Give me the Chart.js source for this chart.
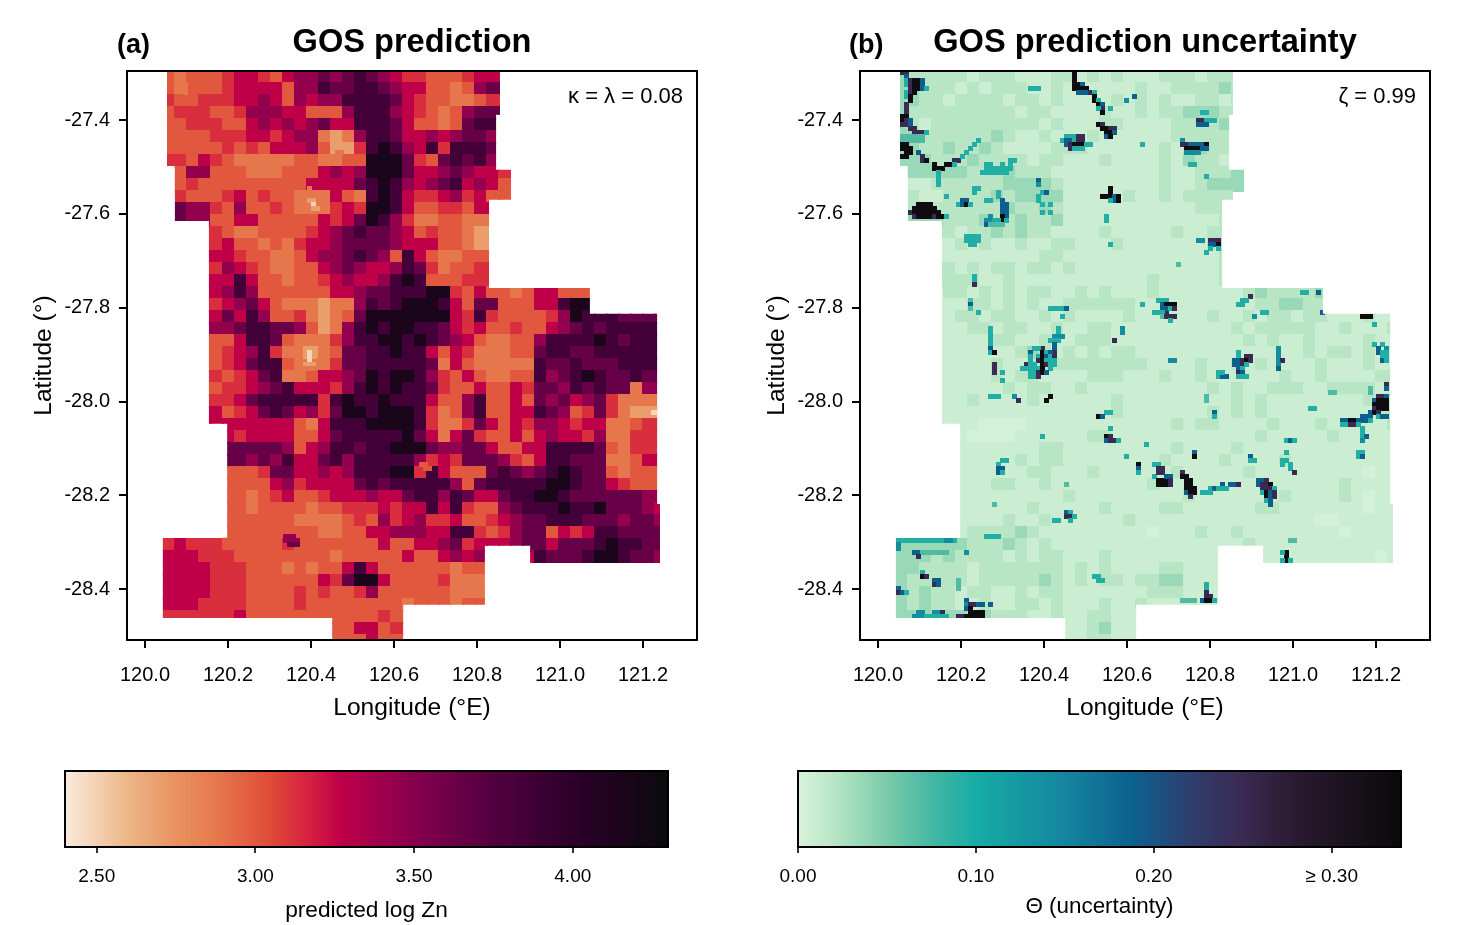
<!DOCTYPE html>
<html><head><meta charset="utf-8">
<style>
html,body{margin:0;padding:0;background:#fff;width:1466px;height:925px;overflow:hidden}
canvas{position:absolute}
</style>
<script src="https://cdn.jsdelivr.net/npm/chart.js@4"></script>
</head><body>
<canvas id="mapA" style="left:0;top:0" width="733" height="730"></canvas>
<canvas id="mapB" style="left:733px;top:0" width="733" height="730"></canvas>
<canvas id="barA" style="left:0;top:740px" width="733" height="185"></canvas>
<canvas id="barB" style="left:733px;top:740px" width="733" height="185"></canvas>
<script>
const lonTicks=[120.0,120.2,120.4,120.6,120.8,121.0,121.2];
const latTicks=[-27.4,-27.6,-27.8,-28.0,-28.2,-28.4];
const lonRange=[119.9566,121.3301];
const latRange=[-28.508,-27.2956];
// survey outline [lon,lat]
const outline=[[120.053,-27.2956],[120.855,-27.2956],[120.855,-27.389],[120.846,-27.389],[120.846,-27.506],[120.882,-27.506],[120.882,-27.570],[120.829,-27.570],[120.829,-27.758],[121.072,-27.758],[121.072,-27.813],[121.234,-27.813],[121.234,-28.218],[121.241,-28.218],[121.241,-28.344],[120.928,-28.344],[120.928,-28.307],[120.819,-28.307],[120.819,-28.433],[120.622,-28.433],[120.622,-28.508],[120.451,-28.508],[120.451,-28.461],[120.043,-28.461],[120.043,-28.290],[120.198,-28.290],[120.198,-28.047],[120.154,-28.047],[120.154,-27.615],[120.072,-27.615],[120.072,-27.498],[120.053,-27.498]];
const gridOrigin=[120.0434,-27.2956];
const coarseStep=[0.028916,0.025559];
const fineStep=[0.009639,0.00852];
// level code -> value
const zincLevels=[2.48,2.7,2.88,3.0,3.13,3.27,3.45,3.65,3.85,4.15];
const thetaLevels=[0.003,0.008,0.02,0.035,0.07,0.095,0.14,0.19,0.25,0.33];
const zincStops=[[2.40,'#faebdd'],[2.6,'#edb587'],[2.75,'#e8925f'],[2.9,'#e6734a'],[3.05,'#df4a38'],[3.18,'#d51c42'],[3.27,'#bf0049'],[3.5,'#87004f'],[3.75,'#520040'],[4.0,'#2d002b'],[4.3,'#0a0a0c']];
const thetaStops=[[0,'#d8f3db'],[0.02,'#b8e6c5'],[0.05,'#7acbaa'],[0.075,'#45b7a4'],[0.1,'#17aca5'],[0.15,'#14859f'],[0.19,'#0d5f8d'],[0.22,'#2e3f6e'],[0.25,'#3a2a52'],[0.28,'#2a1a30'],[0.339,'#0a0a0a']];
// predicted log Zn, coarse rows
const zincRows=[
"32333455435667678765443334555",
"32333455553668778876553323677",
"43344455653656688887543322344",
"34443346665533368886543236777",
"3344433565656755888753323788",
"3333444554566212688755656776",
"3333343435556311489865848887",
"4435432222233223399974378786",
"33663332223335656999755676554",
"33433333333355557898656785653",
".4333453433222532898544564533",
".766436334322245499853344355",
".766335533333545798642233222",
"...4 432233334567877653433211",
"...4 453323245567777655533211",
"...5 554332235667876385322333",
"...4 465432233567655687423344",
"...5 558533233456556898333444",
"...5 56863333335567788899435332355333",
"...4 45675322212268789998537733355899",
"...5 5758633421 2379999999 5484333346 98887777",
"...6 6678877631 2689899887 5453343356 78788888",
"...3 3358873222 4688998987 6532233688 88987888",
"...3 3456842212 3778898853 5422233788 77888888",
"...3 3457883222 4778888872 5322222877 87778888",
"...4 4345782235 5679899864 3532233867 89877877",
"...3 3445678555 4689898874 3353354776 87877266",
"...4 4457888884 8988988853 3683353767 56742222",
"...5 5345787564 7998999842 3683355876 34742111",
"...5 5555555325 8889999842 2475354665 45522344",
"..... 545555335 7888889752 5743353565 54622444",
"..... 777776356 8878899976 6775335588 88732444",
"..... 776768557 8688888645 4777643588 77722355",
"..... 333477556 5688899485 3337876789 87732333",
"..... 333356455 5578788888 6378888899 87754333",
"..... 332345334 5556557886 8755788998 77777766",
"..... 332333323 3444545585 8433678889 88977765",
"..... 333333222 2343645644 5334567788 87776776",
"..... 333333332 2335566655 8843467735 45887777",
"45444 333334333 3333533556 7455567757 77898877",
"55544 433333333 2333335335 656...5877 78998776",
"55554 443332323 3585333333 233",
"55554 443333335 4799533334 222",
"55554 443333434 3346333333 222",
"55544 443333433 3333332333 233",
"44444 453333333 333343",
".............. 335534",
".............. 333533"
];
const zincFine=[[29,36,36,2],[30,36,36,2],[31,36,37,2],[32,36,37,1],[33,37,37,0],[34,37,38,1],[18,42,44,1],[19,42,44,1],[20,43,44,2],[3,5,5,2],[4,5,5,2],[5,5,5,2],[69,35,37,1],[70,35,37,1],[71,35,37,1],[70,36,36,0],[71,36,36,0],[72,36,36,0],[73,35,37,1],[74,35,37,2],[84,121,123,1],[85,121,123,1],[85,122,123,0],[43,78,80,1],[116,30,32,6],[117,30,33,6],[118,31,33,7],[98,64,65,3],[99,65,66,3]];
// GOS uncertainty, coarse rows
const thetaRows=[
"32222212221112212121112221222",
"33222121222112111111211222232",
"33221222212212111121212112212",
"32222222221221111211212233322",
"3212222222221211122111122223",
"3322222232112111211111122222",
"3322322321111222111111212322",
"3332223222212211121111213221",
"33333322232221111111112112223",
"21122222233332111111112112333",
".211222232333311111211212222",
".222222223223211111111111222",
".333222322322311111111111112",
"...2212232322111121111121122",
"...1121211211221112111111122",
"...1111111112211111111111112",
"...2212122122121111111111112",
"...2222112111111111112111112",
"...1 22121212211212111211111112322223",
"...1 11221212112222221111111111223322",
"...1 1221221121 2111121111 1121121221 22111211",
"...1 1122122112 1122111111 1111212222 21121112",
"...1 1111221121 1222111111 1111121211 21111211",
"...1 1111112321 2121221111 1111111111 21221211",
"...1 1111211222 2222222111 1211212111 12111211",
"...1 1111212211 1122211121 1211111121 12111122",
"...1 1111121221 1211111111 1121211222 11222211",
"...1 1121111211 1111211111 1111212111 11111221",
"...1 1111111111 1111211111 1121212111 11111122",
"...1 1110000111 1111111112 1221111211 12111112",
"..... 100001111 1122111111 1111112111 11211111",
"..... 111111122 1111111112 1111211111 11111111",
"..... 111112122 1111111121 1112111121 11111111",
"..... 111111221 1121111112 1111121111 11111011",
"..... 111221121 1111111211 1111111111 11121111",
"..... 111111111 2111111111 2111111121 11121011",
"..... 111111211 1112111122 1111112211 11111011",
"..... 111121121 1111121111 1111111111 10011111",
"..... 122223211 1111111011 1211211111 11101111",
"33333 322232121 1111111111 1111121111 11111111",
"33323 222212122 1112111111 111...1111 11111101",
"33222 212222222 1212111122 111",
"32222 212222232 1212212233 111",
"32322 122112122 1111111222 111",
"32322 112112212 1112112111 111",
"33333 323222112 112211",
".............. 112311",
".............. 112211"
];
// fine cells [row, colStart, colEnd, level]
const thetaFine=[[0,1,2,8],[1,2,2,7],[2,2,2,5],[2,3,3,8],[2,4,5,9],[2,6,6,7],[3,2,2,5],[3,3,3,8],[3,4,5,9],[3,6,6,7],[4,3,3,8],[4,4,5,9],[4,6,6,7],[4,7,7,5],[5,2,2,5],[5,3,3,8],[5,4,4,9],[6,2,2,5],[6,3,3,9],[7,3,3,9],[8,2,2,8],[9,2,2,8],[10,2,2,8],[11,1,2,9],[12,1,1,9],[12,2,2,8],[12,3,3,7],[13,1,2,8],[13,3,3,7],[14,3,4,8],[15,4,6,8],[15,7,7,5],[16,1,6,4],[17,1,6,4],[18,1,2,9],[19,1,3,9],[20,2,3,9],[20,5,5,7],[21,1,2,9],[21,6,6,8],[22,6,6,8],[22,7,7,9],[22,14,15,8],[23,9,9,9],[23,12,13,9],[23,14,14,5],[24,9,11,9],[21,16,16,5],[20,17,17,5],[19,18,18,5],[18,19,19,5],[17,20,20,5],[25,10,10,5],[26,10,10,5],[27,10,10,5],[28,10,10,5],
[33,5,8,9],[34,4,9,9],[35,3,3,8],[35,4,10,9],[36,4,4,8],[36,5,8,9],[36,9,9,8],[36,10,11,9],[36,12,12,5],
[22,28,29,5],[23,22,23,5],[23,26,26,5],[23,28,28,5],[24,22,28,5],[25,21,27,5],[29,19,20,5],[30,19,19,5],[31,12,12,5],[32,22,23,5],[30,25,25,5],[31,25,25,5],[32,16,17,7],[33,15,15,5],[33,16,16,7],[33,17,17,9],[33,18,18,5],[32,26,26,7],[33,26,27,7],[34,26,27,7],[35,26,27,7],[36,27,27,7],[36,26,26,9],[37,26,26,9],[37,27,27,5],[36,23,23,6],[37,22,23,6],[37,24,25,5],[38,22,22,7],[38,23,26,4],[41,17,20,5],[42,17,20,5],[43,18,19,5],[51,19,19,5],[52,19,19,5],[53,19,19,8],[57,18,18,4],[58,18,18,7],[59,18,18,4],[60,20,20,5],
[64,23,23,5],[65,23,23,5],[66,23,23,5],[67,23,23,5],[68,23,23,5],[69,23,23,7],[70,23,23,5],[70,24,24,9],[59,38,41,5],[59,42,42,7],[61,41,41,5],[64,40,40,5],[65,40,40,5],[66,39,41,6],[67,38,40,5],[68,39,39,7],[69,39,39,7],[70,39,39,8],[69,36,36,8],[69,34,35,5],[70,33,33,7],
[0,44,44,9],[1,44,44,9],[2,44,44,9],[3,44,45,9],[3,46,46,7],[4,44,47,9],[5,45,47,7],[5,48,48,8],[5,49,49,5],[6,49,49,9],[7,49,49,9],[7,50,50,5],[8,50,50,9],[8,51,51,7],[9,51,51,8],[9,50,50,5],[9,53,53,5],[10,51,51,9],[13,50,50,9],[13,51,51,8],[14,51,52,9],[14,53,54,8],[15,52,53,9],[15,54,54,7],[16,52,52,7],[16,53,53,9],
[16,42,44,5],[16,45,46,8],[17,41,41,5],[17,42,43,7],[17,44,44,5],[17,45,46,8],[18,42,42,7],[18,43,43,8],[18,44,46,9],[18,47,48,5],[19,43,43,8],[19,44,46,5],[4,33,35,5],[7,57,57,6],[6,59,59,7],[18,61,61,5],
[29,53,53,9],[30,53,53,9],[31,51,53,9],[31,54,54,7],[31,55,55,9],[32,54,54,7],[32,55,55,9],[32,53,53,5],[36,52,52,5],[37,52,52,5],[43,53,53,5],[27,35,35,7],[28,35,35,6],[30,36,36,5],[30,37,37,7],[31,35,35,5],[32,35,35,5],[33,36,36,5],[33,38,38,5],[35,36,36,5],[35,38,38,5],
[57,65,65,5],[58,66,66,5],[59,66,67,7],[59,68,68,9],[60,65,65,5],[60,67,67,8],[61,67,67,8],[58,61,61,5],[60,64,64,5],[64,56,56,6],[65,56,56,6],[67,54,54,8],
[70,36,36,9],[70,37,37,5],[70,38,38,7],[71,33,33,5],[71,35,35,5],[71,36,36,9],[71,37,37,7],[71,38,38,5],[71,39,39,8],[72,33,33,5],[72,35,35,8],[72,36,36,9],[72,37,39,5],[73,32,32,8],[73,33,34,5],[73,36,36,9],[73,37,37,8],[73,38,39,5],[74,31,35,5],[74,36,36,9],[74,38,38,5],[75,33,34,5],[75,35,35,8],[75,36,36,9],[75,37,37,7],[76,33,34,5],[76,35,35,8],[73,24,24,8],[74,24,24,8],[75,24,24,8],[75,26,26,5],[77,26,26,5],[81,23,25,5],[81,29,29,6],[82,30,30,8],[81,38,38,9],[82,37,37,9],[85,52,53,5],[86,50,50,9],[86,51,51,7],[91,52,52,9],[91,53,53,8],[92,52,52,7],[92,53,54,8],[92,55,55,5],[91,36,36,5],[89,53,53,5],[93,62,62,5],[96,57,57,5],[97,26,27,5],[98,25,25,5],[99,25,26,7],[100,25,25,7],[100,26,26,5],[98,60,60,9],[99,60,60,7],[100,60,60,5],[98,64,65,5],[99,66,66,8],[100,66,66,8],[101,64,64,5],[102,65,67,9],[103,65,67,9],[103,42,42,4],[110,42,42,7],[110,43,43,5],[111,42,43,8],[111,44,44,5],[112,39,40,5],[112,43,43,5],[108,24,24,4],[116,22,25,5],
[117,0,14,5],[117,12,13,6],[118,0,0,6],[119,0,0,6],[120,4,5,7],[120,6,12,4],[121,5,5,8],[120,17,17,6],[125,6,6,5],[126,6,6,9],[126,7,7,8],[127,9,10,7],[128,9,9,8],[128,10,10,7],[127,15,15,4],[128,15,15,4],[129,15,15,4],[129,0,0,7],[130,0,0,8],[130,1,1,7],[130,2,2,5],[132,17,17,7],[133,17,17,6],[133,18,19,8],[133,20,21,7],[133,23,23,7],[134,17,17,7],[134,18,18,9],[135,18,21,9],[136,18,21,9],[136,15,16,8],[136,17,17,9],[135,5,6,6],[136,4,6,6],[135,9,10,6],[135,11,11,8],[136,7,12,5],[126,49,50,5],[127,50,51,5],
[10,76,77,5],[12,75,76,8],[12,77,79,5],[13,75,77,7],[17,71,71,6],[18,71,72,8],[18,73,76,7],[18,77,77,9],[19,72,75,9],[19,76,77,7],[20,72,75,6],[23,73,74,5],[26,77,77,5],[42,75,76,6],[42,78,80,8],[43,78,79,7],[43,80,80,9],[44,78,78,5],[44,80,80,5],[45,77,77,5],[48,70,70,4],[56,88,88,8],[57,86,87,5],[58,85,86,5],[55,101,102,5],[55,105,105,7],[57,66,67,5],[58,66,66,7],[58,67,69,9],[59,66,67,7],[59,68,68,5],[59,69,69,8],[60,66,66,5],[61,66,66,4],[61,67,69,8],[62,68,68,5],[60,106,106,7],[60,91,92,5],[61,89,89,6],[61,116,118,9],[63,119,119,5],[68,119,119,5],[68,121,121,5],[69,120,120,7],[69,122,122,6],[70,120,121,7],[69,95,95,6],[70,95,95,6],[70,85,85,5],
[72,68,69,6],[76,80,80,5],[76,81,82,7],[75,80,81,5],[71,85,85,5],[71,87,88,8],[72,84,85,7],[72,86,86,8],[72,87,87,9],[72,88,88,8],[73,84,85,7],[73,86,86,8],[73,87,87,5],[74,85,85,7],[74,86,86,5],[75,85,85,8],[75,86,86,7],[76,85,87,5],[71,95,95,6],[72,95,95,6],[72,96,96,8],[73,95,95,6],[74,95,95,7],[81,77,77,4],[82,77,77,4],[85,79,79,7],[86,79,79,5],[95,74,74,7],[96,74,74,9],[96,88,88,7],[97,88,89,5],[92,97,97,5],[95,97,97,5],[97,96,97,5],[98,96,96,5],[92,98,98,7],[92,99,99,5],[98,98,98,5],[99,98,98,5],[100,99,99,8],
[98,65,65,5],[99,65,66,8],[100,65,66,8],[101,67,68,7],[102,68,68,8],[103,68,68,8],[100,71,71,8],[101,71,72,9],[102,72,73,9],[103,72,73,9],[104,72,74,9],[105,72,72,7],[105,73,74,9],[106,73,73,8],[103,81,81,7],[103,83,84,7],[103,85,85,8],[104,78,78,5],[104,79,79,7],[104,80,82,5],[105,76,78,5],
[102,90,91,7],[102,92,92,8],[103,90,90,7],[103,91,92,8],[103,93,93,9],[104,91,93,8],[104,94,94,5],[105,91,91,5],[105,92,92,9],[105,93,93,7],[105,94,94,8],[106,92,92,9],[106,93,93,7],[106,94,94,8],[107,92,92,5],[107,93,93,7],[108,93,93,7],
[78,122,122,8],[79,122,122,7],[81,120,121,8],[81,122,122,7],[82,119,119,7],[82,120,122,9],[83,119,122,9],[84,119,119,8],[84,120,122,9],[85,118,118,7],[85,119,119,9],[85,120,120,8],[86,116,118,7],[86,120,120,5],[86,121,122,7],[87,111,112,7],[87,113,114,9],[87,115,117,7],[87,118,118,5],[88,111,112,5],[88,113,114,8],[88,115,115,5],[84,103,104,5],[89,116,116,5],[90,116,116,5],[91,116,116,5],[91,117,117,7],[92,116,116,6],[95,115,116,5],[96,115,115,5],[96,116,116,7],[80,108,109,4],[79,118,118,4],[80,118,118,4],[70,121,122,5],[71,121,122,5],[72,121,121,7],[72,122,122,5],
[117,98,99,4],[120,97,97,9],[121,97,97,9],[122,97,97,9],[120,96,96,5],[122,96,96,5],[122,98,98,5],[128,77,77,5],[129,77,77,5],[130,77,77,8],[131,77,78,8],[132,76,76,7],[132,77,78,9],[132,79,79,5],[132,71,74,4]];
const mapFont='"Liberation Sans", Arial, sans-serif';

function hexRGB(h){return [1,3,5].map(i=>parseInt(h.slice(i,i+2),16));}
function colorAt(stops,v){
  if(v<=stops[0][0])return stops[0][1];
  for(let i=1;i<stops.length;i++){
    if(v<=stops[i][0]){
      const t=(v-stops[i-1][0])/(stops[i][0]-stops[i-1][0]);
      const a=hexRGB(stops[i-1][1]),b=hexRGB(stops[i][1]);
      return 'rgb('+a.map((c,k)=>Math.round(c+(b[k]-c)*t)).join(',')+')';
    }
  }
  return stops[stops.length-1][1];
}
function tile(color,w,h){
  const c=document.createElement('canvas');c.width=w;c.height=h;
  const g=c.getContext('2d');g.fillStyle=color;g.fillRect(0,0,w,h);return c;
}
function buildCoarse(rows){
  const out=[];
  rows.forEach((row,r)=>{[...row.replace(/ /g,'')].forEach((ch,c)=>{
    if(ch==='.')return;
    out.push({x:gridOrigin[0]+(c+0.5)*coarseStep[0],y:gridOrigin[1]-(r+0.5)*coarseStep[1],level:+ch});
  });});
  return out;
}
function buildFine(runs){
  const out=[];
  runs.forEach(([r,c0,c1,l])=>{for(let c=c0;c<=c1;c++){
    out.push({x:gridOrigin[0]+(c+0.5)*fineStep[0],y:gridOrigin[1]-(r+0.5)*fineStep[1],level:l});
  }});
  return out;
}
const outlineClip={id:'outlineClip',
  beforeDatasetsDraw(ch){const {ctx,scales:{x,y}}=ch;ctx.save();ctx.beginPath();
    outline.forEach(([a,b],i)=>{const px=x.getPixelForValue(a),py=y.getPixelForValue(b);i?ctx.lineTo(px,py):ctx.moveTo(px,py);});
    ctx.closePath();ctx.clip();},
  afterDatasetsDraw(ch){ch.ctx.restore();}
};
const frame={id:'frame',afterDatasetsDraw(ch){const {ctx,chartArea:a}=ch;ctx.save();ctx.strokeStyle='#000';ctx.lineWidth=2;ctx.strokeRect(a.left,a.top,a.right-a.left,a.bottom-a.top);ctx.restore();}};
function notes(tag,tagX,param){return {id:'notes',afterDraw(ch){const {ctx,chartArea:a}=ch;ctx.save();ctx.fillStyle='#000';ctx.textBaseline='middle';
  ctx.font='bold 27px '+mapFont;ctx.textAlign='left';ctx.fillText(tag,tagX,46);
  ctx.font='22px '+mapFont;ctx.textAlign='right';ctx.fillText(param,a.right-14,97);ctx.restore();}};}

function makeMap(id,title,rows,fine,levels,stops,tag,tagX,param){
  const coarseImg=levels.map(v=>tile(colorAt(stops,v),14,14));
  const fineImg=levels.map(v=>tile(colorAt(stops,v),5,5));
  new Chart(document.getElementById(id),{type:'scatter',
    data:{datasets:[
      {data:buildFine(fine),pointStyle:c=>fineImg[c.raw?c.raw.level:0],pointRadius:3,showLine:false},
      {data:buildCoarse(rows),pointStyle:c=>coarseImg[c.raw?c.raw.level:0],pointRadius:8,showLine:false}]},
    plugins:[outlineClip,frame,notes(tag,tagX,param)],
    options:{responsive:false,animation:false,events:[],devicePixelRatio:1,
      layout:{padding:{left:0,right:36,top:0,bottom:0}},
      plugins:{legend:{display:false},tooltip:{enabled:false},
        title:{display:true,text:title,fullSize:false,color:'#000',font:{family:mapFont,size:32.6,weight:'bold',lineHeight:1.2},padding:{top:23,bottom:8.88}}},
      scales:{
        x:{type:'linear',min:lonRange[0],max:lonRange[1],
          afterBuildTicks:s=>{s.ticks=lonTicks.map(v=>({value:v}));},
          afterFit:s=>{s.height=90;},
          grid:{display:true,drawOnChartArea:false,drawTicks:true,tickLength:8,color:'#000',lineWidth:2},
          border:{display:false},
          ticks:{color:'#000',font:{family:mapFont,size:20},padding:15,maxRotation:0,autoSkip:false,callback:v=>v.toFixed(1)},
          title:{display:true,text:'Longitude (°E)',color:'#000',font:{family:mapFont,size:24.6},padding:{top:0,bottom:7.2}}},
        y:{type:'linear',min:latRange[0],max:latRange[1],
          afterBuildTicks:s=>{s.ticks=latTicks.map(v=>({value:v}));},
          afterFit:s=>{s.width=127;},
          grid:{display:true,drawOnChartArea:false,drawTicks:true,tickLength:8,color:'#000',lineWidth:2},
          border:{display:false},
          ticks:{color:'#000',font:{family:mapFont,size:20},padding:9,autoSkip:false,callback:v=>v.toFixed(1)},
          title:{display:true,text:'Latitude (°)',color:'#000',font:{family:mapFont,size:24.6},padding:{top:29,bottom:0}}}
      }}});
}
function makeBar(id,stops,range,tickValues,tickLabels,label,fontSize,titlePad){
  new Chart(document.getElementById(id),{type:'bar',
    data:{labels:[''],datasets:[{data:[[range[0],range[1]]],barPercentage:1,categoryPercentage:1,borderWidth:0,
      backgroundColor:c=>{const a=c.chart.chartArea;if(!a)return stops[0][1];
        const x=c.chart.scales.x;const g=c.chart.ctx.createLinearGradient(a.left,0,a.right,0);
        stops.forEach(([v,col])=>g.addColorStop(Math.min(1,Math.max(0,(x.getPixelForValue(v)-a.left)/(a.right-a.left))),col));return g;}}]},
    plugins:[frame],
    options:{indexAxis:'y',responsive:false,animation:false,events:[],devicePixelRatio:1,
      layout:{padding:{left:65,right:65,top:31,bottom:0}},
      plugins:{legend:{display:false},tooltip:{enabled:false}},
      scales:{
        y:{display:false},
        x:{type:'linear',min:range[0],max:range[1],
          afterBuildTicks:s=>{s.ticks=tickValues.map(v=>({value:v}));},
          afterFit:s=>{s.height=78;},
          grid:{display:true,drawOnChartArea:false,drawTicks:true,tickLength:6,color:'#333',lineWidth:2},
          border:{display:false},
          ticks:{color:'#000',font:{family:mapFont,size:19},padding:12,maxRotation:0,autoSkip:false,
            callback:v=>{const i=tickValues.findIndex(t=>Math.abs(t-v)<1e-6);return i>=0?tickLabels[i]:'';}},
          title:{display:true,text:label,color:'#000',font:{family:mapFont,size:fontSize},padding:{top:0,bottom:titlePad}}}
      }}});
}
const zincBarTicks=[2.5,3.0,3.5,4.0];
const zincBarLabels=['2.50','3.00','3.50','4.00'];
const thetaBarTicks=[0,0.1,0.2,0.3];
const thetaBarLabels=['0.00','0.10','0.20','≥ 0.30'];
makeMap('mapA','GOS prediction',zincRows,zincFine,zincLevels,zincStops,'(a)',117,'κ = λ = 0.08');
makeMap('mapB','GOS prediction uncertainty',thetaRows,thetaFine,thetaLevels,thetaStops,'(b)',116,'ζ = 0.99');
makeBar('barA',zincStops,[2.4,4.3],zincBarTicks,zincBarLabels,'predicted log Zn',22.7,0.4);
makeBar('barB',thetaStops,[0,0.339],thetaBarTicks,thetaBarLabels,'Θ (uncertainty)',22.4,4.6);
</script>
</body></html>
